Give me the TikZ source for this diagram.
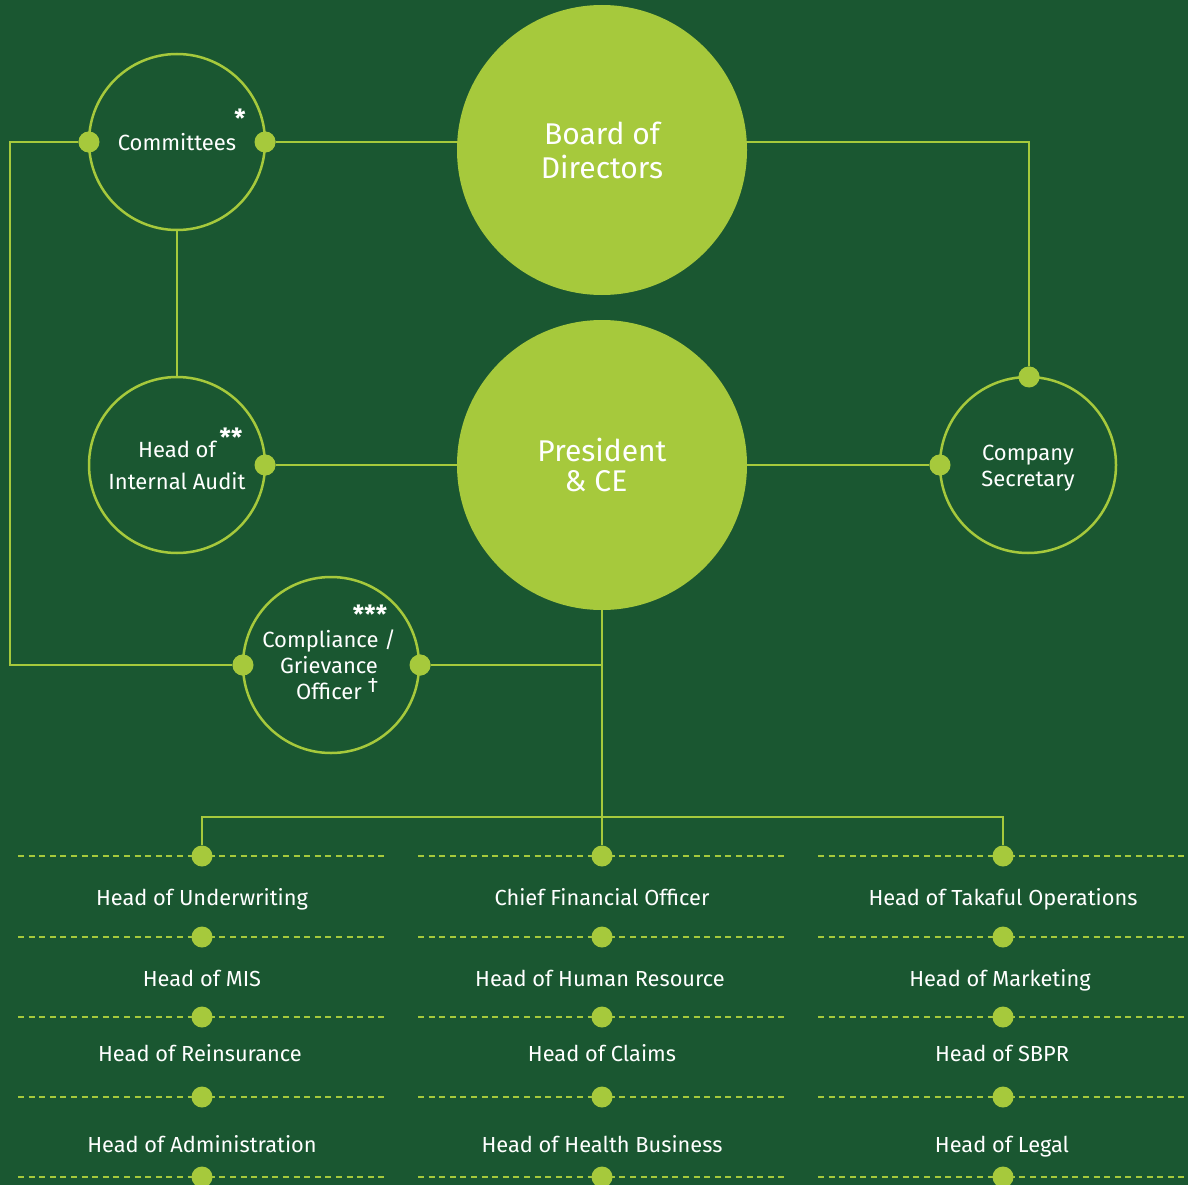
\documentclass[tikz,border=0pt]{standalone}
\usepackage{fontspec}
\setmainfont{Fira Sans}
\definecolor{bg}{HTML}{1A5731}
\definecolor{lg}{HTML}{A6C93C}
\begin{document}
\begin{tikzpicture}[x=1pt,y=-1pt,
  ring/.style={circle,draw=lg,fill=bg,line width=2.5pt,minimum size=176pt,inner sep=0pt,text=white,align=center,font=\fontsize{22}{26}\selectfont},
  rtext/.style={text=white,inner sep=0pt,align=center,font=\fontsize{22}{26}\selectfont},
  big/.style={circle,fill=lg,minimum size=290pt,inner sep=0pt,text=white,align=center},
  dot/.style={circle,fill=lg,minimum size=21pt,inner sep=0pt},
  conn/.style={draw=lg,line width=2.5pt},
  dotline/.style={draw=lg,line width=2.2pt,dash pattern=on 6pt off 4.6pt},
  lbl/.style={text=white,anchor=base,font=\fontsize{21.8}{24}\selectfont},
  star/.style={text=white,font=\fontsize{25}{26}\selectfont\bfseries,inner sep=0pt}]
\useasboundingbox (0,0) rectangle (1188,1185);
\fill[bg] (0,0) rectangle (1188,1185);
\clip (0,0) rectangle (1188,1185);
% coordinates
\coordinate (rail) at (10,142);
\coordinate (bus) at (602,817);
% dotted rows
\foreach \y in {856,937,1017,1097,1177}{
  \draw[dotline] (18,\y) -- (385,\y);
  \draw[dotline] (418,\y) -- (786,\y);
  \draw[dotline] (818,\y) -- (1188,\y);
}
% main shapes (positions)
\path (177,142) coordinate (comC);
\path (177,465) coordinate (hiaC);
\path (331,665) coordinate (coC);
\path (1028,465) coordinate (csC);
\path (602,150) coordinate (boardC);
\path (602,465) coordinate (presC);
% dots on rings
\node[dot] (comL) at (89,142) {};
\node[dot] (comR) at (265,142) {};
\node[dot] (hiaR) at (265,465) {};
\node[dot] (coL) at (243,665) {};
\node[dot] (coR) at (420,665) {};
\node[dot] (csT) at (1029,377) {};
\node[dot] (csL) at (940,465) {};
% bottom dots
\foreach \c/\x in {1/202,2/602,3/1003}{
  \foreach \r/\y in {1/856,2/937,3/1017,4/1097,5/1177}{
    \node[dot] (d\r\c) at (\x,\y) {};
  }
}
% connectors (behind circles)
\draw[conn] (comL) -- (rail) |- (coL);
\draw[conn] (comR) -- (comR -| boardC);
\draw[conn] (csT) |- (comR -| boardC);
\draw[conn] (comC) -- (hiaC);
\draw[conn] (hiaR) -- (presC);
\draw[conn] (presC) -- (csL);
\draw[conn] (coR) -- (coR -| presC);
\draw[conn] (presC) -- (d12);
\draw[conn] (d11) |- (bus) -| (d13);
% circles
\node[ring] (com) at (comC) {Committees};
\node[ring,font=\fontsize{22}{32}\selectfont] (hia) at (hiaC) {Head of\\Internal Audit};
\node[ring] (co) at (coC) {};
\node[rtext,anchor=base] (co1) at (329,647) {Compliance /};
\node[rtext,anchor=base] (co2) at (329,673) {Grievance};
\node[rtext,anchor=base] (co3) at (329,699) {Officer};
\node[ring] (cs) at (csC) {};
\node[rtext] (cstext) at (1028,468) {Company\\Secretary};
\node[big,font=\fontsize{30}{34}\selectfont] (board) at (boardC) {Board of\\Directors};
\node[big,font=\fontsize{30}{30}\selectfont] (pres) at (presC) {President\\\& CE\hspace*{12pt}};
% redraw dots on top
\foreach \n in {comL,comR,hiaR,coL,coR,csT,csL}{
  \fill[lg] (\n) circle (10.5pt);
}
% stars
\node[star] (s1) at (240,118) {*};
\node[star] (s2) at (231,437) {**};
\node[star] (s3) at (370,614) {***};
\node[text=white,font=\fontsize{21}{24}\selectfont,inner sep=0pt] (s4) at (373,685) {†};
% bottom labels
\node[lbl] (t11) at (202,905) {Head of Underwriting};
\node[lbl] (t21) at (202,986) {Head of MIS};
\node[lbl] (t31) at (200,1061) {Head of Reinsurance};
\node[lbl] (t41) at (202,1152) {Head of Administration};
\node[lbl] (t12) at (602,905) {Chief Financial Officer};
\node[lbl] (t22) at (600,986) {Head of Human Resource};
\node[lbl] (t32) at (602,1061) {Head of Claims};
\node[lbl] (t42) at (602,1152) {Head of Health Business};
\node[lbl] (t13) at (1003,905) {Head of Takaful Operations};
\node[lbl] (t23) at (1000,986) {Head of Marketing};
\node[lbl] (t33) at (1002,1061) {Head of SBPR};
\node[lbl] (t43) at (1002,1152) {Head of Legal};
\end{tikzpicture}
\end{document}
